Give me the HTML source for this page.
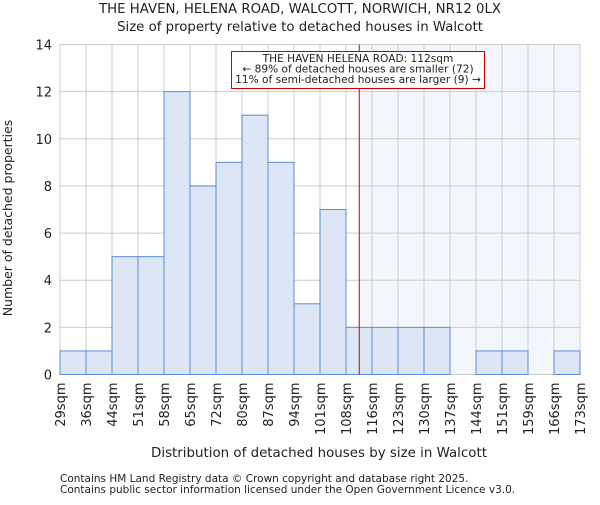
<!DOCTYPE html>
<html><head><meta charset="utf-8"><style>
body{margin:0;background:#fff;}
svg text{font-family:"DejaVu Sans","Liberation Sans",sans-serif;fill:#222;}
</style></head><body>
<svg width="600" height="500" xmlns="http://www.w3.org/2000/svg">
<text x="300" y="13" font-size="13.3" text-anchor="middle">THE HAVEN, HELENA ROAD, WALCOTT, NORWICH, NR12 0LX</text>
<text x="300" y="31" font-size="13.3" text-anchor="middle">Size of property relative to detached houses in Walcott</text>
<g id="plot"></g>
<text x="319" y="457" font-size="13.4" text-anchor="middle">Distribution of detached houses by size in Walcott</text>
<text transform="translate(12,218) rotate(-90)" font-size="12.5" text-anchor="middle">Number of detached properties</text>
<text x="60" y="482" font-size="10.5" fill="#444">Contains HM Land Registry data © Crown copyright and database right 2025.</text>
<text x="60" y="493" font-size="10.5" fill="#444">Contains public sector information licensed under the Open Government Licence v3.0.</text>
</svg>
<script>
const binLabels=["29sqm","36sqm","44sqm","51sqm","58sqm","65sqm","72sqm","80sqm","87sqm","94sqm","101sqm","108sqm","116sqm","123sqm","130sqm","137sqm","144sqm","151sqm","159sqm","166sqm","173sqm"];
const counts=[1,1,5,5,12,8,9,11,9,3,7,2,2,2,2,0,1,1,0,1];
const yTicks=[0,2,4,6,8,10,12,14];
const markerBin=11.51;
const NS="http://www.w3.org/2000/svg";
const L=60,R=580,T=44.5,B=374.5,yMax=14;
const bw=(R-L)/counts.length;
const xs=i=>L+i*bw, ys=v=>B-(v/yMax)*(B-T);
const g=document.getElementById('plot');
function mk(t,a){const e=document.createElementNS(NS,t);for(const k in a)e.setAttribute(k,a[k]);g.appendChild(e);return e;}
let e=mk('rect',{x:xs(markerBin),y:T,width:R-xs(markerBin),height:B-T,fill:'#f3f6fd'});


yTicks.forEach(v=>{const l=mk('line',{x1:L,x2:R,y1:ys(v),y2:ys(v),stroke:'#cccccc'});


const t=mk('text',{x:L-8,y:ys(v)+5,'font-size':13,'text-anchor':'end'});t.textContent=v;

});
binLabels.forEach((s,i)=>{const l=mk('line',{x1:xs(i),x2:xs(i),y1:T,y2:B,stroke:'#cccccc'});


const t=mk('text',{transform:`translate(${xs(i)+5},${B+8}) rotate(-90)`,'font-size':13,'text-anchor':'end'});t.textContent=s;

});
counts.forEach((c,i)=>{if(c<=0)return;const r=mk('rect',{x:xs(i),y:ys(c),width:bw,height:B-ys(c),fill:'#dce6f4',stroke:'#5a8ed6','stroke-width':1});

});
e=mk('line',{x1:xs(markerBin),x2:xs(markerBin),y1:T,y2:B,stroke:'#cc0000','stroke-width':1});


e=mk('rect',{x:231.5,y:51.5,width:253,height:37,fill:'#fff',stroke:'#cc0000'});


["THE HAVEN HELENA ROAD: 112sqm","← 89% of detached houses are smaller (72)","11% of semi-detached houses are larger (9) →"].forEach((s,i)=>{const t=mk('text',{x:358,y:62+i*10.5,'font-size':10.6,'text-anchor':'middle'});t.textContent=s;

});
</script>
</body></html>
